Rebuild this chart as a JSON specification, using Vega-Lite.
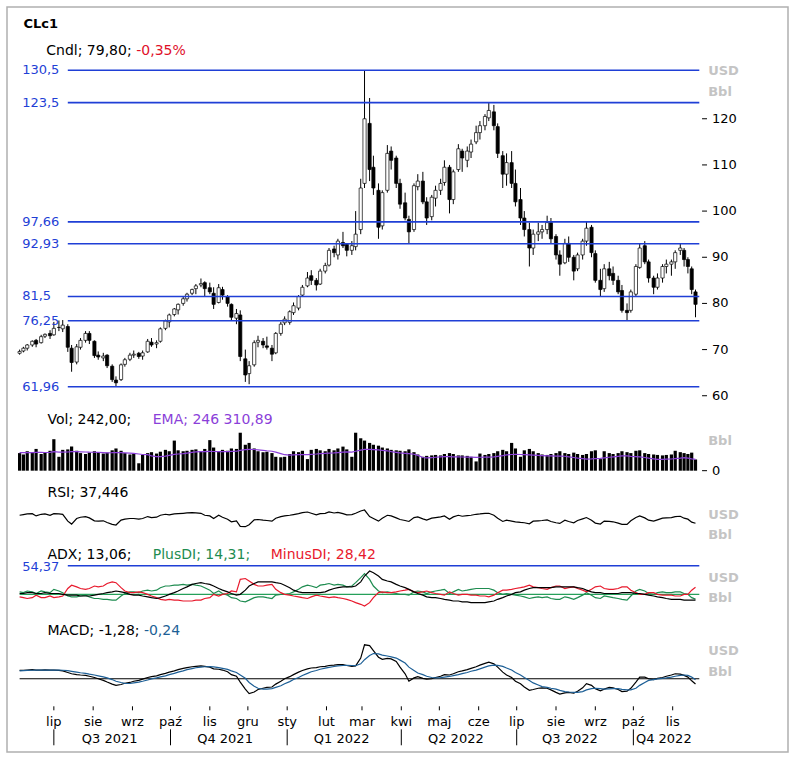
{
"$schema": "https://vega.github.io/schema/vega-lite/v6.json",
"width": 781,
"height": 745,
"autosize": {"type": "none"},
"padding": {"left": 7, "top": 7, "right": 7, "bottom": 8},
"background": "white",
"config": {
  "view": {"stroke": "#b0b0b0", "strokeWidth": 1.5},
  "font": "DejaVu Sans"
},
"datasets": {
"lv": [{"lv":130.5,"lab":"130,5"},{"lv":123.5,"lab":"123,5"},{"lv":97.66,"lab":"97,66"},{"lv":92.93,"lab":"92,93"},{"lv":81.5,"lab":"81,5"},{"lv":76.25,"lab":"76,25"},{"lv":61.96,"lab":"61,96"}],
"yt": [{"yv":60},{"yv":70},{"yv":80},{"yv":90},{"yv":100},{"yv":110},{"yv":120}],
"mo": [{"m":"2021-07-01","lab":"lip"},{"m":"2021-08-01","lab":"sie"},{"m":"2021-09-01","lab":"wrz"},{"m":"2021-10-01","lab":"paź"},{"m":"2021-11-01","lab":"lis"},{"m":"2021-12-01","lab":"gru"},{"m":"2022-01-01","lab":"sty"},{"m":"2022-02-01","lab":"lut"},{"m":"2022-03-01","lab":"mar"},{"m":"2022-04-01","lab":"kwi"},{"m":"2022-05-01","lab":"maj"},{"m":"2022-06-01","lab":"cze"},{"m":"2022-07-01","lab":"lip"},{"m":"2022-08-01","lab":"sie"},{"m":"2022-09-01","lab":"wrz"},{"m":"2022-10-01","lab":"paź"},{"m":"2022-11-01","lab":"lis"}],
"qs": [{"q":"2021-07-01"},{"q":"2021-10-01"},{"q":"2022-01-01"},{"q":"2022-04-01"},{"q":"2022-07-01"},{"q":"2022-10-01"}],
"ql": [{"q":"2021-08-14","lab":"Q3 2021"},{"q":"2021-11-13","lab":"Q4 2021"},{"q":"2022-02-13","lab":"Q1 2022"},{"q":"2022-05-14","lab":"Q2 2022"},{"q":"2022-08-12","lab":"Q3 2022"},{"q":"2022-10-25","lab":"Q4 2022"}],
"px": [
{"d":"2021-06-04","o":69.2,"h":70.0,"l":68.9,"c":69.6,"v":380,"e":389,"r":62,"a":21,"p":23,"m":17,"md":2.0,"sg":1.9},
{"d":"2021-06-07","o":69.7,"h":70.6,"l":69.4,"c":70.3,"v":350,"e":388,"r":64,"a":21,"p":22,"m":16,"md":2.0,"sg":1.95},
{"d":"2021-06-10","o":70.3,"h":71.2,"l":69.8,"c":71.0,"v":420,"e":390,"r":66,"a":22,"p":24,"m":15,"md":2.1,"sg":2.0},
{"d":"2021-06-14","o":71.0,"h":72.0,"l":70.6,"c":71.8,"v":390,"e":391,"r":67,"a":22,"p":23,"m":16,"md":2.2,"sg":2.05},
{"d":"2021-06-17","o":72.0,"h":72.3,"l":70.5,"c":71.2,"v":470,"e":395,"r":60,"a":21,"p":21,"m":19,"md":2.1,"sg":2.1},
{"d":"2021-06-21","o":71.5,"h":73.2,"l":71.3,"c":72.8,"v":360,"e":394,"r":65,"a":21,"p":24,"m":16,"md":2.1,"sg":2.1},
{"d":"2021-06-24","o":72.9,"h":73.5,"l":72.5,"c":73.3,"v":400,"e":393,"r":66,"a":22,"p":23,"m":16,"md":2.15,"sg":2.1},
{"d":"2021-06-28","o":73.5,"h":74.2,"l":72.3,"c":73.0,"v":430,"e":396,"r":62,"a":21,"p":22,"m":18,"md":2.1,"sg":2.1},
{"d":"2021-07-01","o":73.2,"h":76.0,"l":73.0,"c":74.6,"v":680,"e":410,"r":67,"a":21,"p":26,"m":16,"md":2.1,"sg":2.1},
{"d":"2021-07-05","o":74.8,"h":76.3,"l":74.0,"c":74.8,"v":300,"e":400,"r":66,"a":21,"p":24,"m":17,"md":2.0,"sg":2.1},
{"d":"2021-07-08","o":74.5,"h":76.4,"l":73.8,"c":75.3,"v":450,"e":402,"r":65,"a":20,"p":22,"m":18,"md":1.9,"sg":2.05},
{"d":"2021-07-12","o":75.0,"h":75.5,"l":69.5,"c":70.5,"v":460,"e":404,"r":44,"a":19,"p":18,"m":27,"md":1.5,"sg":1.95},
{"d":"2021-07-15","o":70.3,"h":71.0,"l":65.2,"c":67.2,"v":520,"e":410,"r":35,"a":19,"p":17,"m":31,"md":1.2,"sg":1.8},
{"d":"2021-07-19","o":67.3,"h":71.2,"l":66.8,"c":70.6,"v":430,"e":412,"r":52,"a":19,"p":17,"m":29,"md":1.0,"sg":1.6},
{"d":"2021-07-22","o":70.5,"h":72.5,"l":70.0,"c":72.0,"v":380,"e":408,"r":56,"a":18,"p":18,"m":27,"md":0.9,"sg":1.45},
{"d":"2021-07-26","o":72.0,"h":74.0,"l":71.5,"c":73.5,"v":360,"e":404,"r":58,"a":18,"p":19,"m":26,"md":0.8,"sg":1.3},
{"d":"2021-07-29","o":73.5,"h":74.0,"l":71.2,"c":72.0,"v":390,"e":400,"r":54,"a":18,"p":17,"m":27,"md":0.6,"sg":1.1},
{"d":"2021-08-02","o":71.8,"h":72.0,"l":68.2,"c":68.7,"v":420,"e":398,"r":45,"a":19,"p":15,"m":30,"md":0.3,"sg":0.9},
{"d":"2021-08-05","o":68.8,"h":69.6,"l":67.8,"c":68.4,"v":400,"e":395,"r":44,"a":20,"p":15,"m":29,"md":0.0,"sg":0.7},
{"d":"2021-08-09","o":68.2,"h":69.3,"l":67.5,"c":68.6,"v":370,"e":390,"r":45,"a":21,"p":14,"m":30,"md":-0.4,"sg":0.45},
{"d":"2021-08-12","o":68.8,"h":69.0,"l":66.0,"c":66.5,"v":390,"e":386,"r":40,"a":22,"p":14,"m":33,"md":-0.8,"sg":0.2},
{"d":"2021-08-16","o":66.4,"h":66.8,"l":63.0,"c":63.5,"v":440,"e":388,"r":34,"a":23,"p":13,"m":35,"md":-1.3,"sg":-0.2},
{"d":"2021-08-19","o":63.4,"h":64.2,"l":62.0,"c":62.8,"v":480,"e":392,"r":32,"a":24,"p":13,"m":34,"md":-1.6,"sg":-0.6},
{"d":"2021-08-23","o":63.5,"h":67.0,"l":63.2,"c":66.7,"v":430,"e":388,"r":47,"a":23,"p":18,"m":28,"md":-1.4,"sg":-0.9},
{"d":"2021-08-26","o":66.8,"h":68.2,"l":66.3,"c":67.8,"v":380,"e":384,"r":50,"a":22,"p":21,"m":24,"md":-1.1,"sg":-1.1},
{"d":"2021-08-30","o":67.9,"h":69.3,"l":67.5,"c":68.8,"v":350,"e":378,"r":52,"a":20,"p":23,"m":22,"md":-0.9,"sg":-1.15},
{"d":"2021-09-02","o":68.8,"h":69.8,"l":68.2,"c":69.0,"v":370,"e":372,"r":52,"a":19,"p":23,"m":22,"md":-0.6,"sg":-1.0},
{"d":"2021-09-06","o":69.2,"h":69.5,"l":68.0,"c":68.5,"v":160,"e":360,"r":50,"a":19,"p":22,"m":23,"md":-0.4,"sg":-0.8},
{"d":"2021-09-09","o":68.6,"h":69.8,"l":67.8,"c":69.3,"v":340,"e":350,"r":52,"a":18,"p":24,"m":22,"md":-0.1,"sg":-0.6},
{"d":"2021-09-13","o":69.5,"h":72.3,"l":69.3,"c":71.8,"v":380,"e":345,"r":58,"a":17,"p":25,"m":20,"md":0.3,"sg":-0.3},
{"d":"2021-09-16","o":71.6,"h":72.5,"l":70.6,"c":71.0,"v":400,"e":320,"r":55,"a":16,"p":24,"m":18,"md":0.5,"sg":-0.05},
{"d":"2021-09-20","o":71.2,"h":72.0,"l":70.3,"c":71.5,"v":370,"e":305,"r":56,"a":15,"p":25,"m":16,"md":0.7,"sg":0.2},
{"d":"2021-09-23","o":71.8,"h":74.8,"l":71.5,"c":74.5,"v":410,"e":302,"r":62,"a":16,"p":28,"m":14,"md":1.0,"sg":0.45},
{"d":"2021-09-27","o":74.6,"h":76.5,"l":74.2,"c":76.2,"v":450,"e":315,"r":65,"a":18,"p":30,"m":13,"md":1.3,"sg":0.7},
{"d":"2021-09-30","o":76.0,"h":77.8,"l":74.8,"c":77.5,"v":420,"e":330,"r":63,"a":20,"p":30,"m":14,"md":1.6,"sg":1.0},
{"d":"2021-10-04","o":77.6,"h":79.0,"l":77.2,"c":78.8,"v":650,"e":352,"r":66,"a":22,"p":31,"m":13,"md":1.9,"sg":1.3},
{"d":"2021-10-07","o":78.6,"h":80.0,"l":77.6,"c":79.8,"v":440,"e":360,"r":67,"a":24,"p":31,"m":13,"md":2.2,"sg":1.6},
{"d":"2021-10-11","o":80.0,"h":81.5,"l":79.5,"c":81.0,"v":420,"e":370,"r":68,"a":27,"p":32,"m":12,"md":2.5,"sg":1.9},
{"d":"2021-10-14","o":81.0,"h":82.3,"l":80.4,"c":82.0,"v":430,"e":380,"r":69,"a":29,"p":31,"m":12,"md":2.7,"sg":2.2},
{"d":"2021-10-18","o":82.2,"h":83.2,"l":81.8,"c":83.0,"v":450,"e":395,"r":70,"a":32,"p":32,"m":12,"md":2.9,"sg":2.45},
{"d":"2021-10-21","o":83.2,"h":84.2,"l":82.0,"c":83.8,"v":460,"e":405,"r":69,"a":33,"p":31,"m":13,"md":3.0,"sg":2.65},
{"d":"2021-10-25","o":84.0,"h":85.4,"l":83.5,"c":84.3,"v":420,"e":410,"r":68,"a":34,"p":30,"m":13,"md":3.1,"sg":2.8},
{"d":"2021-10-28","o":84.5,"h":84.8,"l":81.6,"c":83.2,"v":470,"e":412,"r":62,"a":33,"p":28,"m":15,"md":3.0,"sg":2.9},
{"d":"2021-11-01","o":83.4,"h":84.5,"l":82.0,"c":82.5,"v":660,"e":415,"r":60,"a":32,"p":25,"m":16,"md":2.8,"sg":2.95},
{"d":"2021-11-04","o":82.2,"h":83.5,"l":78.8,"c":79.8,"v":500,"e":414,"r":52,"a":30,"p":21,"m":20,"md":2.4,"sg":2.85},
{"d":"2021-11-08","o":80.2,"h":84.2,"l":80.0,"c":83.4,"v":420,"e":412,"r":62,"a":27,"p":24,"m":18,"md":2.3,"sg":2.7},
{"d":"2021-11-11","o":83.0,"h":83.6,"l":80.8,"c":81.8,"v":450,"e":414,"r":56,"a":25,"p":21,"m":20,"md":2.1,"sg":2.5},
{"d":"2021-11-15","o":81.5,"h":81.8,"l":79.3,"c":80.0,"v":430,"e":413,"r":50,"a":23,"p":19,"m":21,"md":1.7,"sg":2.25},
{"d":"2021-11-18","o":79.8,"h":80.0,"l":76.2,"c":77.0,"v":480,"e":418,"r":42,"a":21,"p":16,"m":24,"md":1.0,"sg":1.9},
{"d":"2021-11-22","o":76.8,"h":78.8,"l":75.5,"c":77.8,"v":470,"e":420,"r":45,"a":19,"p":15,"m":23,"md":0.6,"sg":1.5},
{"d":"2021-11-25","o":77.5,"h":78.5,"l":67.5,"c":68.5,"v":820,"e":440,"r":28,"a":20,"p":12,"m":38,"md":-0.8,"sg":0.9},
{"d":"2021-11-29","o":68.0,"h":70.0,"l":63.0,"c":64.5,"v":560,"e":455,"r":27,"a":25,"p":11,"m":39,"md":-2.5,"sg":0.1},
{"d":"2021-12-02","o":64.8,"h":67.5,"l":62.5,"c":66.5,"v":600,"e":462,"r":33,"a":30,"p":13,"m":36,"md":-3.6,"sg":-0.9},
{"d":"2021-12-06","o":66.7,"h":72.0,"l":66.3,"c":71.5,"v":480,"e":458,"r":48,"a":33,"p":16,"m":32,"md":-3.2,"sg":-1.8},
{"d":"2021-12-09","o":71.6,"h":73.0,"l":70.5,"c":72.0,"v":420,"e":450,"r":49,"a":35,"p":17,"m":30,"md":-2.6,"sg":-2.3},
{"d":"2021-12-13","o":71.8,"h":72.5,"l":70.3,"c":71.0,"v":400,"e":440,"r":47,"a":35,"p":17,"m":30,"md":-2.3,"sg":-2.5},
{"d":"2021-12-16","o":70.8,"h":72.8,"l":70.0,"c":70.5,"v":410,"e":430,"r":46,"a":35,"p":16,"m":31,"md":-2.1,"sg":-2.5},
{"d":"2021-12-20","o":70.3,"h":71.0,"l":67.5,"c":69.0,"v":380,"e":420,"r":44,"a":35,"p":15,"m":32,"md":-2.0,"sg":-2.4},
{"d":"2021-12-23","o":69.3,"h":73.8,"l":69.0,"c":73.5,"v":300,"e":400,"r":53,"a":34,"p":19,"m":26,"md":-1.3,"sg":-2.1},
{"d":"2021-12-27","o":73.5,"h":76.0,"l":73.0,"c":75.5,"v":290,"e":370,"r":58,"a":33,"p":20,"m":22,"md":-0.6,"sg":-1.7},
{"d":"2021-12-30","o":75.8,"h":77.2,"l":75.3,"c":76.6,"v":300,"e":345,"r":60,"a":31,"p":20,"m":20,"md":0.0,"sg":-1.2},
{"d":"2022-01-03","o":75.9,"h":78.5,"l":75.4,"c":78.2,"v":360,"e":338,"r":62,"a":28,"p":21,"m":19,"md":0.5,"sg":-0.7},
{"d":"2022-01-06","o":78.0,"h":80.2,"l":77.5,"c":79.5,"v":420,"e":340,"r":64,"a":25,"p":23,"m":18,"md":1.0,"sg":-0.2},
{"d":"2022-01-10","o":79.0,"h":81.8,"l":78.5,"c":81.5,"v":400,"e":345,"r":67,"a":23,"p":26,"m":17,"md":1.6,"sg":0.3},
{"d":"2022-01-13","o":81.8,"h":84.0,"l":81.5,"c":83.5,"v":430,"e":350,"r":70,"a":22,"p":29,"m":16,"md":2.0,"sg":0.8},
{"d":"2022-01-17","o":83.8,"h":86.8,"l":83.5,"c":85.5,"v":250,"e":345,"r":72,"a":22,"p":31,"m":15,"md":2.4,"sg":1.3},
{"d":"2022-01-20","o":86.0,"h":87.2,"l":84.0,"c":85.0,"v":450,"e":352,"r":68,"a":22,"p":30,"m":17,"md":2.6,"sg":1.7},
{"d":"2022-01-24","o":85.0,"h":85.5,"l":82.8,"c":84.0,"v":470,"e":360,"r":63,"a":22,"p":28,"m":19,"md":2.7,"sg":2.0},
{"d":"2022-01-27","o":84.2,"h":87.5,"l":84.0,"c":87.0,"v":440,"e":368,"r":67,"a":22,"p":31,"m":18,"md":2.9,"sg":2.3},
{"d":"2022-01-31","o":87.0,"h":88.8,"l":86.5,"c":88.2,"v":420,"e":375,"r":68,"a":23,"p":32,"m":17,"md":3.0,"sg":2.55},
{"d":"2022-02-03","o":88.3,"h":92.0,"l":88.0,"c":91.5,"v":470,"e":380,"r":72,"a":25,"p":33,"m":16,"md":3.2,"sg":2.75},
{"d":"2022-02-07","o":91.8,"h":92.5,"l":90.0,"c":91.0,"v":440,"e":385,"r":69,"a":27,"p":31,"m":17,"md":3.3,"sg":2.95},
{"d":"2022-02-10","o":90.5,"h":94.0,"l":89.5,"c":93.5,"v":480,"e":392,"r":71,"a":28,"p":32,"m":16,"md":3.4,"sg":3.1},
{"d":"2022-02-14","o":93.2,"h":95.5,"l":92.0,"c":92.5,"v":520,"e":400,"r":67,"a":29,"p":31,"m":15,"md":3.4,"sg":3.2},
{"d":"2022-02-17","o":92.8,"h":93.0,"l":90.2,"c":91.5,"v":460,"e":405,"r":63,"a":29,"p":29,"m":14,"md":3.2,"sg":3.25},
{"d":"2022-02-21","o":91.5,"h":93.5,"l":90.5,"c":92.5,"v":300,"e":400,"r":64,"a":29,"p":30,"m":12,"md":3.0,"sg":3.2},
{"d":"2022-02-24","o":92.3,"h":100.0,"l":91.5,"c":95.0,"v":820,"e":420,"r":68,"a":30,"p":34,"m":10,"md":3.1,"sg":3.15},
{"d":"2022-02-28","o":96.0,"h":107.0,"l":95.0,"c":105.0,"v":700,"e":445,"r":75,"a":35,"p":40,"m":8,"md":5.0,"sg":3.6},
{"d":"2022-03-03","o":106.0,"h":130.5,"l":105.0,"c":120.0,"v":650,"e":462,"r":78,"a":42,"p":45,"m":6,"md":8.2,"sg":4.6},
{"d":"2022-03-07","o":119.0,"h":124.5,"l":106.5,"c":109.0,"v":600,"e":460,"r":58,"a":48,"p":38,"m":10,"md":8.0,"sg":5.6},
{"d":"2022-03-10","o":109.5,"h":112.0,"l":103.5,"c":105.0,"v":560,"e":455,"r":52,"a":46,"p":30,"m":16,"md":6.8,"sg":6.1},
{"d":"2022-03-14","o":104.5,"h":106.0,"l":94.0,"c":96.5,"v":540,"e":450,"r":44,"a":42,"p":24,"m":22,"md":5.2,"sg":6.0},
{"d":"2022-03-17","o":96.8,"h":104.5,"l":96.0,"c":104.0,"v":500,"e":440,"r":53,"a":38,"p":22,"m":23,"md":4.7,"sg":5.7},
{"d":"2022-03-21","o":104.5,"h":114.3,"l":104.0,"c":112.5,"v":480,"e":430,"r":62,"a":36,"p":23,"m":22,"md":4.9,"sg":5.5},
{"d":"2022-03-24","o":113.0,"h":114.0,"l":109.0,"c":111.0,"v":450,"e":410,"r":60,"a":35,"p":22,"m":22,"md":4.8,"sg":5.3},
{"d":"2022-03-28","o":111.5,"h":112.0,"l":105.0,"c":106.0,"v":440,"e":395,"r":54,"a":32,"p":21,"m":23,"md":4.2,"sg":5.0},
{"d":"2022-03-31","o":106.0,"h":107.0,"l":100.5,"c":101.5,"v":430,"e":385,"r":49,"a":30,"p":20,"m":24,"md":2.8,"sg":4.5},
{"d":"2022-04-04","o":101.8,"h":104.0,"l":98.0,"c":98.5,"v":420,"e":375,"r":46,"a":28,"p":20,"m":25,"md":1.2,"sg":3.8},
{"d":"2022-04-07","o":98.2,"h":99.0,"l":93.0,"c":95.5,"v":460,"e":368,"r":43,"a":26,"p":19,"m":26,"md":-0.6,"sg":2.8},
{"d":"2022-04-11","o":96.0,"h":106.0,"l":95.5,"c":105.5,"v":400,"e":355,"r":55,"a":23,"p":23,"m":23,"md":0.2,"sg":2.0},
{"d":"2022-04-14","o":105.3,"h":108.0,"l":104.5,"c":106.5,"v":350,"e":330,"r":57,"a":21,"p":24,"m":22,"md":0.5,"sg":1.4},
{"d":"2022-04-18","o":106.5,"h":108.5,"l":101.5,"c":102.0,"v":300,"e":285,"r":51,"a":19,"p":23,"m":23,"md":0.1,"sg":1.0},
{"d":"2022-04-21","o":102.0,"h":103.0,"l":97.0,"c":98.5,"v":320,"e":275,"r":47,"a":17,"p":21,"m":24,"md":-0.1,"sg":0.6},
{"d":"2022-04-25","o":98.8,"h":103.5,"l":98.0,"c":103.0,"v":330,"e":280,"r":53,"a":16,"p":23,"m":22,"md":0.0,"sg":0.3},
{"d":"2022-04-28","o":102.8,"h":105.5,"l":101.0,"c":104.5,"v":340,"e":290,"r":55,"a":16,"p":24,"m":21,"md":0.3,"sg":0.2},
{"d":"2022-05-02","o":104.5,"h":107.0,"l":103.5,"c":106.0,"v":330,"e":298,"r":57,"a":15,"p":25,"m":20,"md":0.6,"sg":0.25},
{"d":"2022-05-05","o":106.2,"h":111.0,"l":105.5,"c":109.5,"v":360,"e":302,"r":60,"a":14,"p":26,"m":19,"md":1.0,"sg":0.4},
{"d":"2022-05-09","o":109.5,"h":110.0,"l":99.5,"c":102.5,"v":380,"e":302,"r":50,"a":13,"p":21,"m":23,"md":0.9,"sg":0.55},
{"d":"2022-05-12","o":102.5,"h":109.0,"l":101.5,"c":108.5,"v":360,"e":300,"r":57,"a":12,"p":23,"m":21,"md":1.2,"sg":0.75},
{"d":"2022-05-16","o":109.0,"h":114.5,"l":108.5,"c":113.5,"v":330,"e":298,"r":62,"a":12,"p":26,"m":19,"md":1.7,"sg":1.0},
{"d":"2022-05-19","o":113.0,"h":113.5,"l":108.5,"c":111.5,"v":330,"e":296,"r":59,"a":11,"p":24,"m":20,"md":1.9,"sg":1.25},
{"d":"2022-05-23","o":111.0,"h":114.0,"l":109.5,"c":113.0,"v":320,"e":294,"r":61,"a":11,"p":25,"m":20,"md":2.2,"sg":1.5},
{"d":"2022-05-26","o":112.8,"h":115.5,"l":111.5,"c":114.5,"v":300,"e":292,"r":62,"a":10,"p":26,"m":19,"md":2.5,"sg":1.8},
{"d":"2022-05-30","o":115.0,"h":118.5,"l":114.5,"c":117.0,"v":200,"e":288,"r":65,"a":10,"p":27,"m":19,"md":2.9,"sg":2.1},
{"d":"2022-06-02","o":117.0,"h":119.5,"l":115.5,"c":118.5,"v":370,"e":290,"r":66,"a":10,"p":27,"m":18,"md":3.3,"sg":2.4},
{"d":"2022-06-06","o":118.5,"h":121.0,"l":117.5,"c":120.5,"v":340,"e":292,"r":68,"a":10,"p":27,"m":18,"md":3.7,"sg":2.8},
{"d":"2022-06-09","o":120.2,"h":123.5,"l":119.5,"c":121.8,"v":360,"e":295,"r":68,"a":11,"p":27,"m":17,"md":4.0,"sg":3.1},
{"d":"2022-06-13","o":121.5,"h":123.0,"l":117.5,"c":118.5,"v":380,"e":300,"r":62,"a":12,"p":25,"m":19,"md":3.6,"sg":3.3},
{"d":"2022-06-16","o":118.3,"h":119.0,"l":111.5,"c":112.5,"v":420,"e":310,"r":53,"a":14,"p":22,"m":22,"md":2.8,"sg":3.25},
{"d":"2022-06-20","o":112.0,"h":113.0,"l":105.0,"c":108.0,"v":450,"e":325,"r":43,"a":16,"p":20,"m":25,"md":1.6,"sg":3.0},
{"d":"2022-06-23","o":108.0,"h":112.5,"l":105.5,"c":110.5,"v":420,"e":340,"r":47,"a":18,"p":21,"m":25,"md":0.9,"sg":2.6},
{"d":"2022-06-27","o":110.5,"h":113.0,"l":105.0,"c":106.0,"v":600,"e":350,"r":44,"a":20,"p":20,"m":26,"md":0.3,"sg":2.1},
{"d":"2022-06-30","o":106.0,"h":109.0,"l":101.0,"c":102.0,"v":480,"e":355,"r":42,"a":22,"p":19,"m":27,"md":-0.6,"sg":1.5},
{"d":"2022-07-04","o":102.5,"h":105.0,"l":97.0,"c":98.5,"v":300,"e":350,"r":40,"a":23,"p":18,"m":28,"md":-1.2,"sg":0.9},
{"d":"2022-07-07","o":98.5,"h":100.0,"l":94.5,"c":96.0,"v":440,"e":345,"r":39,"a":25,"p":17,"m":29,"md":-2.0,"sg":0.3},
{"d":"2022-07-11","o":96.0,"h":97.5,"l":88.0,"c":92.0,"v":470,"e":340,"r":36,"a":27,"p":15,"m":31,"md":-2.8,"sg":-0.4},
{"d":"2022-07-14","o":92.0,"h":96.0,"l":90.5,"c":95.0,"v":420,"e":335,"r":44,"a":28,"p":16,"m":29,"md":-2.6,"sg":-1.0},
{"d":"2022-07-18","o":95.0,"h":97.5,"l":93.5,"c":95.5,"v":380,"e":330,"r":45,"a":28,"p":17,"m":28,"md":-2.3,"sg":-1.5},
{"d":"2022-07-21","o":95.5,"h":97.0,"l":94.0,"c":96.0,"v":350,"e":325,"r":46,"a":28,"p":16,"m":27,"md":-2.2,"sg":-1.9},
{"d":"2022-07-25","o":96.0,"h":99.0,"l":95.0,"c":97.5,"v":340,"e":320,"r":48,"a":28,"p":17,"m":26,"md":-2.3,"sg":-2.1},
{"d":"2022-07-28","o":97.5,"h":98.5,"l":93.0,"c":94.0,"v":360,"e":318,"r":43,"a":28,"p":15,"m":28,"md":-2.7,"sg":-2.3},
{"d":"2022-08-01","o":94.5,"h":95.0,"l":89.5,"c":90.5,"v":380,"e":315,"r":39,"a":29,"p":14,"m":30,"md":-3.3,"sg":-2.5},
{"d":"2022-08-04","o":90.5,"h":91.5,"l":86.0,"c":88.5,"v":420,"e":315,"r":37,"a":29,"p":14,"m":30,"md":-3.7,"sg":-2.8},
{"d":"2022-08-08","o":88.8,"h":94.0,"l":88.5,"c":93.0,"v":380,"e":312,"r":47,"a":29,"p":17,"m":27,"md":-3.4,"sg":-3.1},
{"d":"2022-08-11","o":93.0,"h":94.5,"l":89.0,"c":90.0,"v":360,"e":300,"r":43,"a":29,"p":16,"m":28,"md":-3.3,"sg":-3.2},
{"d":"2022-08-15","o":90.0,"h":90.5,"l":85.0,"c":87.0,"v":390,"e":285,"r":39,"a":29,"p":14,"m":29,"md":-3.5,"sg":-3.3},
{"d":"2022-08-18","o":87.5,"h":91.0,"l":87.0,"c":90.5,"v":360,"e":270,"r":46,"a":28,"p":16,"m":27,"md":-3.0,"sg":-3.3},
{"d":"2022-08-22","o":90.5,"h":94.0,"l":89.5,"c":93.5,"v":340,"e":260,"r":51,"a":27,"p":19,"m":25,"md":-2.2,"sg":-3.1},
{"d":"2022-08-25","o":93.5,"h":97.66,"l":92.5,"c":96.3,"v":360,"e":250,"r":55,"a":25,"p":22,"m":23,"md":-1.2,"sg":-2.7},
{"d":"2022-08-29","o":96.5,"h":97.0,"l":90.0,"c":91.0,"v":420,"e":255,"r":47,"a":23,"p":19,"m":26,"md":-1.6,"sg":-2.4},
{"d":"2022-09-01","o":90.8,"h":91.5,"l":84.5,"c":85.0,"v":440,"e":262,"r":38,"a":22,"p":16,"m":29,"md":-2.4,"sg":-2.3},
{"d":"2022-09-05","o":85.0,"h":87.5,"l":81.5,"c":83.0,"v":250,"e":265,"r":35,"a":22,"p":15,"m":30,"md":-2.9,"sg":-2.4},
{"d":"2022-09-08","o":83.2,"h":88.5,"l":82.5,"c":87.5,"v":420,"e":275,"r":44,"a":21,"p":18,"m":27,"md":-2.5,"sg":-2.5},
{"d":"2022-09-12","o":87.5,"h":89.0,"l":85.0,"c":86.0,"v":380,"e":290,"r":43,"a":21,"p":17,"m":26,"md":-2.1,"sg":-2.45},
{"d":"2022-09-15","o":86.5,"h":88.0,"l":84.0,"c":85.0,"v":360,"e":300,"r":42,"a":21,"p":16,"m":26,"md":-2.2,"sg":-2.4},
{"d":"2022-09-19","o":85.0,"h":86.0,"l":82.0,"c":82.5,"v":380,"e":310,"r":38,"a":21,"p":15,"m":27,"md":-2.6,"sg":-2.4},
{"d":"2022-09-22","o":82.8,"h":84.0,"l":78.0,"c":78.5,"v":420,"e":318,"r":34,"a":22,"p":14,"m":29,"md":-3.1,"sg":-2.55},
{"d":"2022-09-26","o":78.5,"h":80.0,"l":76.25,"c":78.0,"v":400,"e":318,"r":34,"a":22,"p":13,"m":29,"md":-3.0,"sg":-2.7},
{"d":"2022-09-29","o":78.5,"h":83.0,"l":78.0,"c":82.5,"v":380,"e":310,"r":45,"a":22,"p":18,"m":25,"md":-2.3,"sg":-2.7},
{"d":"2022-10-03","o":82.0,"h":88.5,"l":81.5,"c":88.0,"v":430,"e":305,"r":55,"a":21,"p":24,"m":22,"md":-0.8,"sg":-2.3},
{"d":"2022-10-06","o":87.8,"h":93.0,"l":87.5,"c":92.0,"v":440,"e":300,"r":60,"a":21,"p":26,"m":20,"md":0.4,"sg":-1.6},
{"d":"2022-10-10","o":92.5,"h":93.5,"l":88.5,"c":89.0,"v":380,"e":285,"r":54,"a":20,"p":24,"m":20,"md":0.4,"sg":-0.9},
{"d":"2022-10-13","o":89.0,"h":89.5,"l":84.5,"c":85.5,"v":360,"e":270,"r":47,"a":19,"p":21,"m":22,"md":0.0,"sg":-0.4},
{"d":"2022-10-17","o":85.5,"h":86.0,"l":82.0,"c":83.5,"v":350,"e":255,"r":44,"a":18,"p":20,"m":22,"md":-0.2,"sg":-0.2},
{"d":"2022-10-20","o":83.5,"h":86.5,"l":83.0,"c":85.5,"v":340,"e":245,"r":48,"a":17,"p":22,"m":20,"md":0.1,"sg":-0.05},
{"d":"2022-10-24","o":85.5,"h":88.5,"l":84.5,"c":88.0,"v":330,"e":245,"r":53,"a":16,"p":23,"m":19,"md":0.3,"sg":0.1},
{"d":"2022-10-27","o":88.0,"h":89.5,"l":86.5,"c":88.5,"v":340,"e":248,"r":54,"a":15,"p":22,"m":19,"md":0.6,"sg":0.2},
{"d":"2022-10-31","o":88.5,"h":89.5,"l":86.0,"c":89.0,"v":350,"e":252,"r":55,"a":14,"p":22,"m":19,"md":0.9,"sg":0.4},
{"d":"2022-11-03","o":89.0,"h":91.5,"l":87.5,"c":91.0,"v":430,"e":260,"r":58,"a":14,"p":23,"m":18,"md":1.2,"sg":0.6},
{"d":"2022-11-07","o":91.5,"h":93.0,"l":90.5,"c":92.0,"v":400,"e":270,"r":59,"a":14,"p":23,"m":18,"md":1.1,"sg":0.8},
{"d":"2022-11-10","o":91.5,"h":92.0,"l":88.0,"c":89.5,"v":380,"e":280,"r":53,"a":13,"p":21,"m":20,"md":0.8,"sg":0.9},
{"d":"2022-11-13","o":89.5,"h":90.0,"l":86.5,"c":88.0,"v":360,"e":270,"r":50,"a":13,"p":20,"m":20,"md":0.4,"sg":0.8},
{"d":"2022-11-16","o":87.5,"h":88.0,"l":82.0,"c":83.0,"v":390,"e":255,"r":41,"a":13,"p":16,"m":25,"md":-0.5,"sg":0.4},
{"d":"2022-11-19","o":82.5,"h":83.0,"l":77.0,"c":79.8,"v":242,"e":246,"r":37.4,"a":13.06,"p":14.31,"m":28.42,"md":-1.28,"sg":-0.24}
]
},
"layer": [
{
"layer": [
{"data": {"name": "px"}, "mark": {"type": "rule", "color": "#000000", "strokeWidth": 1},
 "encoding": {
  "x": {"field": "d", "type": "temporal", "scale": {"domain": [{"year":2021,"month":5,"date":29},{"year":2023,"month":1,"date":27}], "nice": false}, "axis": null},
  "y": {"field": "l", "type": "quantitative", "scale": {"domain": [-17.17, 144.21], "nice": false, "zero": false}, "axis": null},
  "y2": {"field": "h"}}},
{"data": {"name": "px"}, "mark": {"type": "bar", "size": 3.2, "stroke": "#000000", "strokeWidth": 0.7},
 "encoding": {
  "x": {"field": "d", "type": "temporal", "axis": null},
  "y": {"field": "o", "type": "quantitative", "axis": null},
  "y2": {"field": "c"},
  "fill": {"condition": {"test": "datum.c > datum.o", "value": "#ffffff"}, "value": "#000000"}}},
{"data": {"name": "lv"}, "mark": {"type": "rule", "color": "#1f3fd6", "strokeWidth": 1.6},
 "encoding": {
  "x": {"datum": {"year":2021,"month":7,"date":12}, "type": "temporal", "axis": null},
  "x2": {"datum": {"year":2022,"month":11,"date":22}},
  "y": {"field": "lv", "type": "quantitative", "axis": null}}},
{"data": {"name": "lv"}, "mark": {"type": "text", "align": "left", "baseline": "middle", "fontSize": 13, "color": "#1f3fd6"},
 "encoding": {
  "x": {"datum": {"year":2021,"month":6,"date":6}, "type": "temporal", "axis": null},
  "y": {"field": "lv", "type": "quantitative", "axis": null},
  "text": {"field": "lab"}}},
{"data": {"name": "yt"}, "mark": {"type": "rule", "color": "#000000", "strokeWidth": 1},
 "encoding": {
  "x": {"datum": {"year":2022,"month":11,"date":24,"hours":4}, "type": "temporal", "axis": null},
  "x2": {"datum": {"year":2022,"month":11,"date":28,"hours":2}},
  "y": {"field": "yv", "type": "quantitative", "axis": null}}},
{"data": {"name": "yt"}, "mark": {"type": "text", "align": "left", "baseline": "middle", "fontSize": 13, "color": "#000000"},
 "encoding": {
  "x": {"datum": {"year":2022,"month":12,"date":2}, "type": "temporal", "axis": null},
  "y": {"field": "yv", "type": "quantitative", "axis": null},
  "text": {"field": "yv", "type": "quantitative"}}},
{"data": {"values": [{"t": "CLc1"}]}, "mark": {"type": "text", "align": "left", "baseline": "middle", "fontSize": 13, "fontWeight": "bold", "color": "#000000"},
 "encoding": {"x": {"datum": {"year":2021,"month":6,"date":7}, "type": "temporal", "axis": null}, "y": {"datum": 140.48, "type": "quantitative", "axis": null}, "text": {"field": "t"}}},
{"data": {"values": [{"t": "Cndl; 79,80;"}]}, "mark": {"type": "text", "align": "left", "baseline": "middle", "fontSize": 14, "color": "#000000"},
 "encoding": {"x": {"datum": {"year":2021,"month":6,"date":25}, "type": "temporal", "axis": null}, "y": {"datum": 134.68, "type": "quantitative", "axis": null}, "text": {"field": "t"}}},
{"data": {"values": [{"t": "-0,35%"}]}, "mark": {"type": "text", "align": "left", "baseline": "middle", "fontSize": 14, "color": "#e0102a"},
 "encoding": {"x": {"datum": {"year":2021,"month":9,"date":4}, "type": "temporal", "axis": null}, "y": {"datum": 134.68, "type": "quantitative", "axis": null}, "text": {"field": "t"}}},
{"data": {"values": [{"t": "USD"}]}, "mark": {"type": "text", "align": "left", "baseline": "middle", "fontSize": 13, "fontWeight": "bold", "color": "#c4c4c4"},
 "encoding": {"x": {"datum": {"year":2022,"month":11,"date":29}, "type": "temporal", "axis": null}, "y": {"datum": 130.35, "type": "quantitative", "axis": null}, "text": {"field": "t"}}},
{"data": {"values": [{"t": "Bbl"}]}, "mark": {"type": "text", "align": "left", "baseline": "middle", "fontSize": 13, "fontWeight": "bold", "color": "#c4c4c4"},
 "encoding": {"x": {"datum": {"year":2022,"month":11,"date":29}, "type": "temporal", "axis": null}, "y": {"datum": 125.8, "type": "quantitative", "axis": null}, "text": {"field": "t"}}}
]
},
{
"layer": [
{"data": {"name": "px"}, "mark": {"type": "bar", "size": 3.2, "color": "#000000"},
 "encoding": {
  "x": {"field": "d", "type": "temporal", "axis": null},
  "y": {"field": "v", "type": "quantitative", "scale": {"domain": [-6076, 10015], "nice": false}, "axis": null},
  "y2": {"datum": 0}}},
{"data": {"name": "px"}, "mark": {"type": "line", "color": "#8b3fd9", "strokeWidth": 1.2},
 "encoding": {
  "x": {"field": "d", "type": "temporal", "axis": null},
  "y": {"field": "e", "type": "quantitative", "axis": null}}},
{"data": {"values": [{}]}, "mark": {"type": "rule", "color": "#000000", "strokeWidth": 1},
 "encoding": {
  "x": {"datum": {"year":2022,"month":11,"date":24,"hours":4}, "type": "temporal", "axis": null},
  "x2": {"datum": {"year":2022,"month":11,"date":28,"hours":2}},
  "y": {"datum": 0, "type": "quantitative", "axis": null}}},
{"data": {"values": [{"t": "0"}]}, "mark": {"type": "text", "align": "left", "baseline": "middle", "fontSize": 13, "color": "#000000"},
 "encoding": {"x": {"datum": {"year":2022,"month":12,"date":2}, "type": "temporal", "axis": null}, "y": {"datum": 0, "type": "quantitative", "axis": null}, "text": {"field": "t"}}},
{"data": {"values": [{"t": "Vol; 242,00;"}]}, "mark": {"type": "text", "align": "left", "baseline": "middle", "fontSize": 14, "color": "#000000"},
 "encoding": {"x": {"datum": {"year":2021,"month":6,"date":26}, "type": "temporal", "axis": null}, "y": {"datum": 1095, "type": "quantitative", "axis": null}, "text": {"field": "t"}}},
{"data": {"values": [{"t": "EMA; 246 310,89"}]}, "mark": {"type": "text", "align": "left", "baseline": "middle", "fontSize": 14, "color": "#8b3fd9"},
 "encoding": {"x": {"datum": {"year":2021,"month":9,"date":17}, "type": "temporal", "axis": null}, "y": {"datum": 1095, "type": "quantitative", "axis": null}, "text": {"field": "t"}}},
{"data": {"values": [{"t": "Bbl"}]}, "mark": {"type": "text", "align": "left", "baseline": "middle", "fontSize": 13, "fontWeight": "bold", "color": "#c4c4c4"},
 "encoding": {"x": {"datum": {"year":2022,"month":11,"date":29}, "type": "temporal", "axis": null}, "y": {"datum": 641, "type": "quantitative", "axis": null}, "text": {"field": "t"}}}
]
},
{
"layer": [
{"data": {"name": "px"}, "mark": {"type": "line", "color": "#000000", "strokeWidth": 1.2},
 "encoding": {
  "x": {"field": "d", "type": "temporal", "axis": null},
  "y": {"field": "r", "type": "quantitative", "scale": {"domain": [-663.1, 1618.7], "nice": false, "zero": false}, "axis": null}}},
{"data": {"values": [{"t": "RSI; 37,446"}]}, "mark": {"type": "text", "align": "left", "baseline": "middle", "fontSize": 14, "color": "#000000"},
 "encoding": {"x": {"datum": {"year":2021,"month":6,"date":26}, "type": "temporal", "axis": null}, "y": {"datum": 128.7, "type": "quantitative", "axis": null}, "text": {"field": "t"}}},
{"data": {"values": [{"t": "USD"}]}, "mark": {"type": "text", "align": "left", "baseline": "middle", "fontSize": 13, "fontWeight": "bold", "color": "#c4c4c4"},
 "encoding": {"x": {"datum": {"year":2022,"month":11,"date":29}, "type": "temporal", "axis": null}, "y": {"datum": 62.8, "type": "quantitative", "axis": null}, "text": {"field": "t"}}},
{"data": {"values": [{"t": "Bbl"}]}, "mark": {"type": "text", "align": "left", "baseline": "middle", "fontSize": 13, "fontWeight": "bold", "color": "#c4c4c4"},
 "encoding": {"x": {"datum": {"year":2022,"month":11,"date":29}, "type": "temporal", "axis": null}, "y": {"datum": 1.5, "type": "quantitative", "axis": null}, "text": {"field": "t"}}}
]
},
{
"layer": [
{"data": {"values": [{}]}, "mark": {"type": "rule", "color": "#1f3fd6", "strokeWidth": 1.6},
 "encoding": {
  "x": {"datum": {"year":2021,"month":7,"date":12}, "type": "temporal", "axis": null},
  "x2": {"datum": {"year":2022,"month":11,"date":22}},
  "y": {"datum": 54.37, "type": "quantitative", "scale": {"domain": [-169.5, 725.9], "nice": false, "zero": false}, "axis": null}}},
{"data": {"values": [{"t": "54,37"}]}, "mark": {"type": "text", "align": "left", "baseline": "middle", "fontSize": 13, "color": "#1f3fd6"},
 "encoding": {"x": {"datum": {"year":2021,"month":6,"date":6}, "type": "temporal", "axis": null}, "y": {"datum": 53.2, "type": "quantitative", "axis": null}, "text": {"field": "t"}}},
{"data": {"values": [{}]}, "mark": {"type": "rule", "color": "#25a05a", "strokeWidth": 1.3},
 "encoding": {
  "x": {"datum": {"year":2021,"month":6,"date":4}, "type": "temporal", "axis": null},
  "x2": {"datum": {"year":2022,"month":11,"date":22}},
  "y": {"datum": 20, "type": "quantitative", "axis": null}}},
{"data": {"name": "px"}, "mark": {"type": "line", "color": "#1e8c50", "strokeWidth": 1.2},
 "encoding": {"x": {"field": "d", "type": "temporal", "axis": null}, "y": {"field": "p", "type": "quantitative", "axis": null}}},
{"data": {"name": "px"}, "mark": {"type": "line", "color": "#e8192c", "strokeWidth": 1.2},
 "encoding": {"x": {"field": "d", "type": "temporal", "axis": null}, "y": {"field": "m", "type": "quantitative", "axis": null}}},
{"data": {"name": "px"}, "mark": {"type": "line", "color": "#000000", "strokeWidth": 1.2},
 "encoding": {"x": {"field": "d", "type": "temporal", "axis": null}, "y": {"field": "a", "type": "quantitative", "axis": null}}},
{"data": {"values": [{"t": "ADX; 13,06;"}]}, "mark": {"type": "text", "align": "left", "baseline": "middle", "fontSize": 14, "color": "#000000"},
 "encoding": {"x": {"datum": {"year":2021,"month":6,"date":26}, "type": "temporal", "axis": null}, "y": {"datum": 67.5, "type": "quantitative", "axis": null}, "text": {"field": "t"}}},
{"data": {"values": [{"t": "PlusDI; 14,31;"}]}, "mark": {"type": "text", "align": "left", "baseline": "middle", "fontSize": 14, "color": "#1e8c50"},
 "encoding": {"x": {"datum": {"year":2021,"month":9,"date":17}, "type": "temporal", "axis": null}, "y": {"datum": 67.5, "type": "quantitative", "axis": null}, "text": {"field": "t"}}},
{"data": {"values": [{"t": "MinusDI; 28,42"}]}, "mark": {"type": "text", "align": "left", "baseline": "middle", "fontSize": 14, "color": "#e8192c"},
 "encoding": {"x": {"datum": {"year":2021,"month":12,"date":19}, "type": "temporal", "axis": null}, "y": {"datum": 67.5, "type": "quantitative", "axis": null}, "text": {"field": "t"}}},
{"data": {"values": [{"t": "USD"}]}, "mark": {"type": "text", "align": "left", "baseline": "middle", "fontSize": 13, "fontWeight": "bold", "color": "#c4c4c4"},
 "encoding": {"x": {"datum": {"year":2022,"month":11,"date":29}, "type": "temporal", "axis": null}, "y": {"datum": 40.2, "type": "quantitative", "axis": null}, "text": {"field": "t"}}},
{"data": {"values": [{"t": "Bbl"}]}, "mark": {"type": "text", "align": "left", "baseline": "middle", "fontSize": 13, "fontWeight": "bold", "color": "#c4c4c4"},
 "encoding": {"x": {"datum": {"year":2022,"month":11,"date":29}, "type": "temporal", "axis": null}, "y": {"datum": 15.2, "type": "quantitative", "axis": null}, "text": {"field": "t"}}}
]
},
{
"layer": [
{"data": {"values": [{}]}, "mark": {"type": "rule", "color": "#000000", "strokeWidth": 1.2},
 "encoding": {
  "x": {"datum": {"year":2021,"month":6,"date":4}, "type": "temporal", "axis": null},
  "x2": {"datum": {"year":2022,"month":11,"date":22}},
  "y": {"datum": 0, "type": "quantitative", "scale": {"domain": [-17.7, 162.3], "nice": false, "zero": false}, "axis": null}}},
{"data": {"name": "px"}, "mark": {"type": "line", "color": "#000000", "strokeWidth": 1.2},
 "encoding": {"x": {"field": "d", "type": "temporal", "axis": null}, "y": {"field": "md", "type": "quantitative", "axis": null}}},
{"data": {"name": "px"}, "mark": {"type": "line", "color": "#1d5f96", "strokeWidth": 1.2},
 "encoding": {"x": {"field": "d", "type": "temporal", "axis": null}, "y": {"field": "sg", "type": "quantitative", "axis": null}}},
{"data": {"name": "mo"}, "mark": {"type": "rule", "color": "#000000", "strokeWidth": 1},
 "encoding": {"x": {"field": "m", "type": "temporal", "axis": null}, "y": {"datum": -6.66, "type": "quantitative", "axis": null}, "y2": {"datum": -7.63}}},
{"data": {"name": "mo"}, "mark": {"type": "text", "align": "center", "baseline": "alphabetic", "fontSize": 13, "color": "#000000"},
 "encoding": {"x": {"field": "m", "type": "temporal", "axis": null}, "y": {"datum": -11.37, "type": "quantitative", "axis": null}, "text": {"field": "lab"}}},
{"data": {"name": "qs"}, "mark": {"type": "rule", "color": "#000000", "strokeWidth": 1},
 "encoding": {"x": {"field": "q", "type": "temporal", "axis": null}, "y": {"datum": -12.22, "type": "quantitative", "axis": null}, "y2": {"datum": -16.08}}},
{"data": {"name": "ql"}, "mark": {"type": "text", "align": "center", "baseline": "alphabetic", "fontSize": 13, "color": "#000000"},
 "encoding": {"x": {"field": "q", "type": "temporal", "axis": null}, "y": {"datum": -15.55, "type": "quantitative", "axis": null}, "text": {"field": "lab"}}},
{"data": {"values": [{"t": "MACD; -1,28;"}]}, "mark": {"type": "text", "align": "left", "baseline": "middle", "fontSize": 14, "color": "#000000"},
 "encoding": {"x": {"datum": {"year":2021,"month":6,"date":26}, "type": "temporal", "axis": null}, "y": {"datum": 11.6, "type": "quantitative", "axis": null}, "text": {"field": "t"}}},
{"data": {"values": [{"t": "-0,24"}]}, "mark": {"type": "text", "align": "left", "baseline": "middle", "fontSize": 14, "color": "#1d5f96"},
 "encoding": {"x": {"datum": {"year":2021,"month":9,"date":10}, "type": "temporal", "axis": null}, "y": {"datum": 11.6, "type": "quantitative", "axis": null}, "text": {"field": "t"}}},
{"data": {"values": [{"t": "USD"}]}, "mark": {"type": "text", "align": "left", "baseline": "middle", "fontSize": 13, "fontWeight": "bold", "color": "#c4c4c4"},
 "encoding": {"x": {"datum": {"year":2022,"month":11,"date":29}, "type": "temporal", "axis": null}, "y": {"datum": 6.6, "type": "quantitative", "axis": null}, "text": {"field": "t"}}},
{"data": {"values": [{"t": "Bbl"}]}, "mark": {"type": "text", "align": "left", "baseline": "middle", "fontSize": 13, "fontWeight": "bold", "color": "#c4c4c4"},
 "encoding": {"x": {"datum": {"year":2022,"month":11,"date":29}, "type": "temporal", "axis": null}, "y": {"datum": 1.55, "type": "quantitative", "axis": null}, "text": {"field": "t"}}}
]
}
],
"resolve": {"scale": {"y": "independent"}}
}
